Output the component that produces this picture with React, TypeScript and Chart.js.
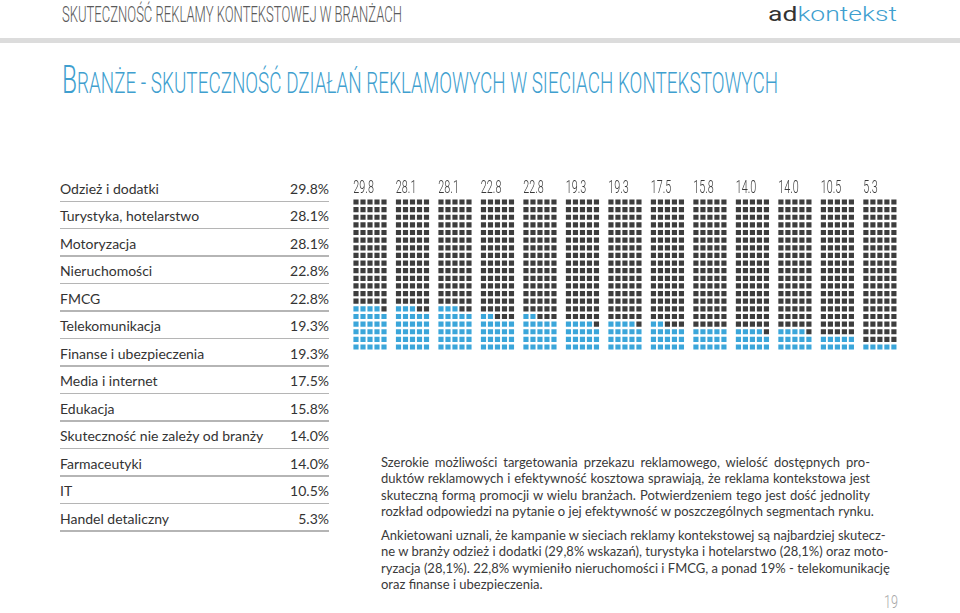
import React, { useEffect, useLayoutEffect, useRef } from 'react';
import { Chart, registerables } from 'chart.js';

Chart.register(...registerables);

// ---- data ----
const categories: string[] = [
  'Odzież i dodatki',
  'Turystyka, hotelarstwo',
  'Motoryzacja',
  'Nieruchomości',
  'FMCG',
  'Telekomunikacja',
  'Finanse i ubezpieczenia',
  'Media i internet',
  'Edukacja',
  'Skuteczność nie zależy od branży',
  'Farmaceutyki',
  'IT',
  'Handel detaliczny',
];
const values: number[] = [29.8, 28.1, 28.1, 22.8, 22.8, 19.3, 19.3, 17.5, 15.8, 14.0, 14.0, 10.5, 5.3];
const tableLabels: string[] = values.map((v) => v.toFixed(1) + '%');
const waffleLabels: string[] = values.map((v) => v.toFixed(1));

// waffle grid: 5 squares across, 20 rows high (100 squares per category)
const GRID_COLS = 5;
const GRID_ROWS = 20;
const STRIDE = 6.07; // distance between waffle columns, in square units

const BLUE = '#3ba6da';
const DARK = '#3d3d3d';
const TITLE_BLUE = '#3f9fcf';

const para1: string[] = [
  'Szerokie możliwości targetowania przekazu reklamowego, wielość dostępnych pro-',
  'duktów reklamowych i efektywność kosztowa sprawiają, że reklama kontekstowa jest',
  'skuteczną formą promocji w wielu branżach. Potwierdzeniem tego jest dość jednolity',
  'rozkład odpowiedzi na pytanie o jej efektywność w poszczególnych segmentach rynku.',
];
const para2: string[] = [
  'Ankietowani uznali, że kampanie w sieciach reklamy kontekstowej są najbardziej skutecz-',
  'ne w branży odzież i dodatki (29,8% wskazań), turystyka i hotelarstwo (28,1%) oraz moto-',
  'ryzacja (28,1%). 22,8% wymieniło nieruchomości i FMCG, a ponad 19% - telekomunikację',
  'oraz finanse i ubezpieczenia.',
];

function buildWaffle() {
  const filled: { x: number; y: number }[] = [];
  const empty: { x: number; y: number }[] = [];
  values.forEach((v, c) => {
    const n = Math.floor(v);
    for (let k = 0; k < GRID_COLS * GRID_ROWS; k++) {
      const pt = { x: c * STRIDE + (k % GRID_COLS), y: Math.floor(k / GRID_COLS) };
      if (k < n) filled.push(pt);
      else empty.push(pt);
    }
  });
  return { filled, empty };
}

// draws the x-axis tick labels in a condensed style at the scale's own tick positions
const condensedTicks = {
  id: 'condensedTicks',
  afterDraw(chart: any) {
    const scale = chart.scales.x;
    const ctx = chart.ctx;
    ctx.save();
    ctx.fillStyle = '#3a3a3a';
    ctx.font = '300 18px Roboto, sans-serif';
    ctx.textBaseline = 'alphabetic';
    ctx.textAlign = 'left';
    const baseline = chart.chartArea.top - 5;
    scale.ticks.forEach((t: any, i: number) => {
      const x = scale.getPixelForTick(i);
      const label = waffleLabels[i];
      ctx.save();
      ctx.translate(x, baseline);
      ctx.scale(0.6, 1);
      ctx.fillText(label, 0, 0);
      ctx.restore();
    });
    ctx.restore();
  },
};

function FitText({ width, style, children }: { width: number; style?: React.CSSProperties; children: React.ReactNode }) {
  const ref = useRef<HTMLSpanElement>(null);
  useLayoutEffect(() => {
    const fit = () => {
      const el = ref.current;
      if (!el) return;
      el.style.transform = 'none';
      const w = el.getBoundingClientRect().width;
      if (w > 0) el.style.transform = `scaleX(${width / w})`;
    };
    fit();
    if ((document as any).fonts && (document as any).fonts.ready) {
      (document as any).fonts.ready.then(fit);
    }
  });
  return (
    <span
      ref={ref}
      style={{ display: 'inline-block', whiteSpace: 'nowrap', transformOrigin: '0 0', ...style }}
    >
      {children}
    </span>
  );
}

function Waffle() {
  const canvasRef = useRef<HTMLCanvasElement>(null);
  useEffect(() => {
    const canvas = canvasRef.current;
    if (!canvas) return;
    const { filled, empty } = buildWaffle();
    const R = 3.65;
    const common = {
      pointStyle: 'rect' as const,
      pointRadius: R,
      pointHoverRadius: R,
      pointBorderWidth: 0,
      borderWidth: 0,
      showLine: false,
    };
    const chart = new Chart(canvas, {
      type: 'scatter',
      data: {
        datasets: [
          { ...common, data: filled, backgroundColor: BLUE, pointBackgroundColor: BLUE },
          { ...common, data: empty, backgroundColor: DARK, pointBackgroundColor: DARK },
        ],
      },
      options: {
        animation: false,
        responsive: false,
        maintainAspectRatio: false,
        events: [],
        layout: { padding: { left: 12.5, right: 12.6, top: 3.8, bottom: 6.2 } },
        plugins: { legend: { display: false }, tooltip: { enabled: false } },
        scales: {
          x: {
            type: 'linear',
            position: 'top',
            min: -0.5,
            max: (values.length - 1) * STRIDE + GRID_COLS - 0.5,
            grid: { display: false, drawTicks: false, tickLength: 0 },
            border: { display: false },
            afterBuildTicks: (axis: any) => {
              axis.ticks = values.map((_, i) => ({ value: i * STRIDE - 0.38 }));
            },
            ticks: {
              autoSkip: false,
              maxRotation: 0,
              minRotation: 0,
              align: 'start',
              padding: 1.6,
              color: 'rgba(0,0,0,0)',
              font: { family: 'Roboto, sans-serif', size: 16 },
              callback: (_v: any, i: number) => waffleLabels[i],
            },
          },
          y: { type: 'linear', min: -0.5, max: GRID_ROWS - 0.5, display: false },
        },
      },
      plugins: [condensedTicks],
    });
    return () => chart.destroy();
  }, []);
  return (
    <canvas
      ref={canvasRef}
      width={570}
      height={185}
      style={{ position: 'absolute', left: 340, top: 172, width: 570, height: 185 }}
    />
  );
}

export default function App() {
  const ROW_PITCH = 27.47;
  return (
    <div
      style={{
        position: 'absolute',
        left: 0,
        top: 0,
        width: 960,
        height: 613,
        background: '#ffffff',
        overflow: 'hidden',
        fontFamily: 'Lato, "Noto Sans", sans-serif',
      }}
    >
      {/* header */}
      <div style={{ position: 'absolute', left: 62, top: 4.2, lineHeight: '22px' }}>
        <FitText width={340} style={{ fontFamily: 'Roboto', fontWeight: 300, fontSize: 22, color: '#5a5a5a' }}>
          SKUTECZNOŚĆ REKLAMY KONTEKSTOWEJ W BRANŻACH
        </FitText>
      </div>
      <div style={{ position: 'absolute', left: 768, top: 4.3, lineHeight: '21px' }}>
        <FitText width={129} style={{ fontFamily: 'Roboto', fontWeight: 300, fontSize: 21 }}>
          <span style={{ color: '#333333', fontWeight: 400 }}>ad</span>
          <span style={{ color: TITLE_BLUE }}>kontekst</span>
        </FitText>
      </div>
      <div style={{ position: 'absolute', left: 0, top: 38, width: 960, height: 5, background: '#dcdcdc' }} />

      {/* title */}
      <div style={{ position: 'absolute', left: 62, top: 60, lineHeight: '40px' }}>
        <FitText width={716} style={{ fontFamily: 'Roboto', fontWeight: 300, color: TITLE_BLUE }}>
          <span style={{ fontSize: 39 }}>B</span>
          <span style={{ fontSize: 30 }}>RANŻE - SKUTECZNOŚĆ DZIAŁAŃ REKLAMOWYCH W SIECIACH KONTEKSTOWYCH</span>
        </FitText>
      </div>

      {/* table */}
      {categories.map((c, i) => (
        <React.Fragment key={c}>
          <div
            style={{
              position: 'absolute',
              left: 60,
              width: 269,
              top: 176 + i * ROW_PITCH,
              height: 25,
              display: 'flex',
              alignItems: 'center',
              justifyContent: 'space-between',
              fontSize: 14,
              color: '#333333',
              whiteSpace: 'nowrap',
            }}
          >
            <span>{c}</span>
            <span>{tableLabels[i]}</span>
          </div>
          <div
            style={{
              position: 'absolute',
              left: 60,
              width: 269,
              top: 200.5 + i * ROW_PITCH,
              height: 1.5,
              background: '#b5b5b5',
            }}
          />
        </React.Fragment>
      ))}

      <Waffle />

      {/* body text */}
      {[para1, para2].map((p, pi) => (
        <div key={pi} style={{ position: 'absolute', left: 381, width: 489, top: pi === 0 ? 453.8 : 526.8 }}>
          {p.map((line, li) => (
            <div
              key={li}
              style={{
                height: 16.5,
                lineHeight: '16.5px',
                fontSize: 13,
                color: '#3a3a3a',
                whiteSpace: 'nowrap',
                textAlign: 'justify',
                textAlignLast: li === p.length - 1 ? 'left' : 'justify',
              } as React.CSSProperties}
            >
              {line}
            </div>
          ))}
        </div>
      ))}

      {/* page number */}
      <div style={{ position: 'absolute', left: 884, top: 593, lineHeight: '18px' }}>
        <FitText width={14} style={{ fontFamily: 'Roboto', fontWeight: 300, fontSize: 18, color: '#a8a8a8' }}>
          19
        </FitText>
      </div>
    </div>
  );
}
